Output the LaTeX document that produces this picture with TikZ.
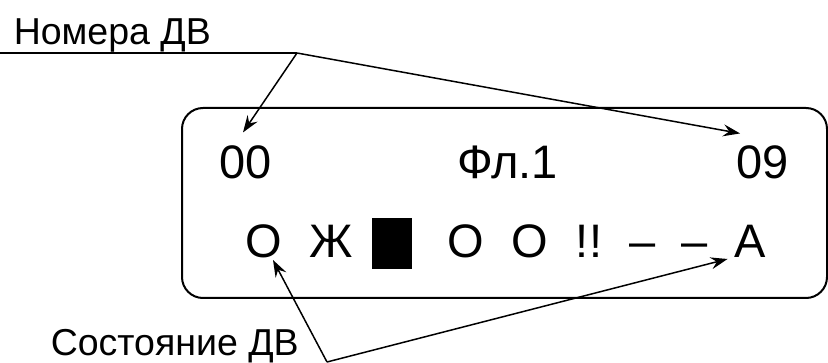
\documentclass[tikz,border=0pt]{standalone}
\usepackage{fontspec}
\setmainfont{Liberation Sans}
\usepackage{tikz}
\usetikzlibrary{arrows.meta}
\usetikzlibrary{calc}

\begin{document}
\begin{tikzpicture}[x=1pt, y=-1pt,
    every path/.style={line width=1.5pt},
    lcd/.style={font=\fontsize{47}{56}\selectfont, inner sep=0pt, anchor=base},
    lbl/.style={font=\fontsize{37.5}{45}\selectfont, inner sep=0pt, anchor=base west},
    pointer/.style={-{Stealth[length=17pt, width=12pt, inset=6pt]}}]

    \useasboundingbox (0,0) rectangle (828,363);

    % display frame
    \draw[line width=2pt, rounded corners=21pt] (182,108) rectangle (827,298);

    % first line
    \node[lcd] (d00) at (246,179) {00};
    \node[lcd] (fl) at (507.5,179) {Фл.1};
    \node[lcd] (d09) at (763,179) {09};

    % second line
    \node[lcd] (o1) at (264,258) {О};
    \node[lcd] (zh) at (331,258) {Ж};
    \node[fill, inner sep=0pt, minimum width=40pt, minimum height=51pt] (blk) at (392,243.5) {};
    \node[lcd] (o2) at (465.5,258) {О};
    \node[lcd] (o3) at (530,258) {О};
    \node[lcd] (ex) at (589,258) {!!};
    \node[lcd] (m1) at (643,258) {–};
    \node[lcd] (m2) at (695,258) {–};
    \node[lcd] (a1) at (750,258) {А};

    % labels
    \node[lbl] (nom) at (13,45) {Номера ДВ};
    \coordinate (ul) at (0,53);
    \coordinate (nomend) at (297,53);
    \draw (ul) -- (nomend);
    \draw[pointer] (nomend) -- ($(d00.north)+(-3,-13)$);
    \draw[pointer] (nomend) -- ($(d09.north west)+(4,-12)$);

    \node[lbl] (sost) at (50,356) {Состояние ДВ};
    \coordinate (sostend) at (327,362);
    \draw[pointer] (sostend) -- ($(o1.base)+(9,2)$);
    \draw[pointer] (sostend) -- ($(a1.base west)+(-6,1)$);

\end{tikzpicture}
\end{document}
